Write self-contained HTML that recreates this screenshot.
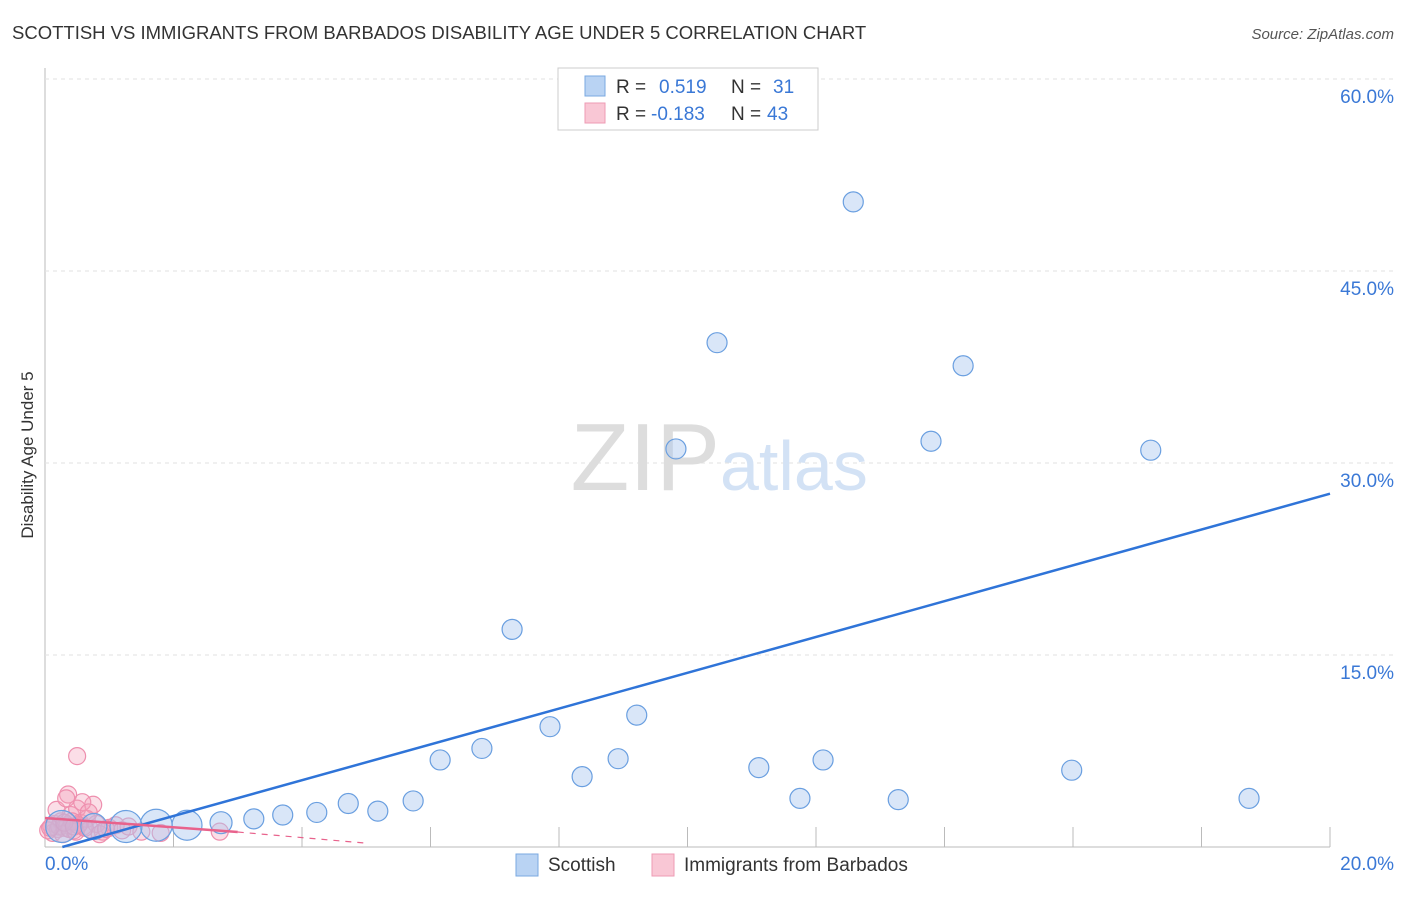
<!DOCTYPE html>
<html><head><meta charset="utf-8"><style>
body{margin:0;background:#fff;font-family:"Liberation Sans",sans-serif}
svg text{font-family:"Liberation Sans",sans-serif}
</style></head><body>
<svg id="chart" width="1406" height="892">
<text x="12" y="39" font-size="18.5" fill="#333">SCOTTISH VS IMMIGRANTS FROM BARBADOS DISABILITY AGE UNDER 5 CORRELATION CHART</text>
<text x="1394" y="39" font-size="15" fill="#555" text-anchor="end" font-style="italic">Source: ZipAtlas.com</text>
<text x="33" y="455" font-size="17" fill="#333" text-anchor="middle" transform="rotate(-90 33 455)">Disability Age Under 5</text>
<g id="grid"></g>
<text x="720" y="490" font-size="96" fill="#ddd" text-anchor="end" font-family="Liberation Serif">ZIP</text>
<text x="720" y="490" font-size="70" fill="#d3e2f5">atlas</text>
<g id="marks"></g>
<g>
<rect x="558" y="68" width="260" height="62" fill="#fff" stroke="#ccc"/>
<rect x="585" y="76" width="20" height="20" fill="#b9d3f3" stroke="#7aa8e0"/>
<rect x="585" y="103" width="20" height="20" fill="#f9c7d5" stroke="#ee9bb4"/>
<text x="616" y="93" font-size="19" fill="#333">R = </text><text x="659" y="93" font-size="19" fill="#3a78d6">0.519</text>
<text x="731" y="93" font-size="19" fill="#333">N = </text><text x="773" y="93" font-size="19" fill="#3a78d6">31</text>
<text x="616" y="120" font-size="19" fill="#333">R = </text><text x="651" y="120" font-size="19" fill="#3a78d6">-0.183</text>
<text x="731" y="120" font-size="19" fill="#333">N = </text><text x="767" y="120" font-size="19" fill="#3a78d6">43</text>
</g>
<g>
<rect x="516" y="854" width="22" height="22" fill="#b9d3f3" stroke="#7aa8e0"/>
<text x="548" y="871" font-size="19" fill="#333">Scottish</text>
<rect x="652" y="854" width="22" height="22" fill="#f9c7d5" stroke="#ee9bb4"/>
<text x="684" y="871" font-size="19" fill="#333">Immigrants from Barbados</text>
</g>
</svg>
<script>
const blueX=[12.58,10.46,14.29,9.82,13.79,17.21,7.27,9.21,7.86,6.80,6.15,8.36,8.92,11.11,12.11,15.98,11.75,13.28,18.74,5.73,5.18,4.72,4.23,3.70,3.25,2.74,2.21,1.73,1.26,0.76,0.26];
const blueY=[50.4,39.4,37.6,31.1,31.7,31.0,17.0,10.3,9.4,7.7,6.8,5.5,6.9,6.2,6.8,6.0,3.8,3.7,3.8,3.6,2.8,3.4,2.7,2.5,2.2,1.9,1.7,1.7,1.6,1.6,1.6];
const blueR=[10,10,10,10,10,10,10,10,10,10,10,10,10,10,10,10,10,10,10,10,10,10,10,10,10,11,15,16,16,13,16];
const pinkX=[0.5,0.36,0.75,2.72,1.8,0.1,0.15,0.2,0.25,0.3,0.35,0.4,0.45,0.5,0.55,0.6,0.65,0.7,0.8,0.9,1.0,1.1,1.2,0.12,0.18,0.22,0.28,0.33,0.38,0.42,0.48,0.52,0.58,0.62,0.68,0.85,0.95,1.3,1.5,0.05,0.08,0.3,0.45];
const pinkY=[7.1,4.1,3.3,1.2,1.1,1.6,1.8,1.4,2.0,1.5,1.7,2.5,1.3,3.0,1.9,1.6,2.2,1.4,1.8,1.2,1.5,1.7,1.3,1.1,2.9,1.6,1.0,3.8,1.4,2.0,1.2,1.7,3.5,1.5,2.7,1.0,1.4,1.6,1.2,1.3,1.5,1.9,1.6];
const xTicks=[0,5,10,15,20];
const yTicks=[15,30,45,60];
const blueLine=[0.27,0,20,27.6];
const pinkLine=[0,2.27,3,1.17,5,0.3];
const X=v=>45+v*64.25, Y=v=>847-v*12.8;
const NS='http://www.w3.org/2000/svg';
function mk(t,a,p){const e=document.createElementNS(NS,t);for(const k in a)e.setAttribute(k,a[k]);p.appendChild(e);return e;}
const g=document.getElementById('grid'), m=document.getElementById('marks');
let ax=mk('line',{x1:45,y1:68,x2:45,y2:847,stroke:'#bbb'},g);


let bx=mk('line',{x1:45,y1:847,x2:1330,y2:847,stroke:'#bbb'},g);


yTicks.forEach(v=>{
 const l=mk('line',{x1:45,x2:1394,y1:Y(v),y2:Y(v),stroke:'#e2e2e2','stroke-dasharray':'4,4'},g);
 
 
 const t=mk('text',{x:1394,y:Y(v)+24,'font-size':19,fill:'#3a78d6','text-anchor':'end'},g);t.textContent=v.toFixed(1)+'%';
 
 
});
for(let i=1;i<=10;i++){const x=X(i*2);const l=mk('line',{x1:x,x2:x,y1:827,y2:847,stroke:'#bbb'},g);
 
 }
[[0,'start',45],[20,'end',1394]].forEach(([v,a,x])=>{const t=mk('text',{x:x,y:870,'font-size':19,fill:'#3a78d6','text-anchor':a},g);t.textContent=v.toFixed(1)+'%';
 
 });
pinkX.forEach((x,i)=>{const c=mk('circle',{cx:X(x),cy:Y(pinkY[i]),r:8.5,fill:'rgba(244,160,185,0.35)',stroke:'#ee8fae','stroke-width':1.2},m);
 
 });
blueX.forEach((x,i)=>{const c=mk('circle',{cx:X(x),cy:Y(blueY[i]),r:blueR[i],fill:'rgba(170,200,240,0.45)',stroke:'#6a9fe0','stroke-width':1.2},m);
 
 });
let bl=mk('line',{x1:X(blueLine[0]),y1:Y(blueLine[1]),x2:X(blueLine[2]),y2:Y(blueLine[3]),stroke:'#2f74d8','stroke-width':2.5},m);


let pl=mk('line',{x1:X(pinkLine[0]),y1:Y(pinkLine[1]),x2:X(pinkLine[2]),y2:Y(pinkLine[3]),stroke:'#e8628c','stroke-width':2.5},m);


let pd=mk('line',{x1:X(pinkLine[2]),y1:Y(pinkLine[3]),x2:X(pinkLine[4]),y2:Y(pinkLine[5]),stroke:'#e8628c','stroke-width':1.2,'stroke-dasharray':'6,6'},m);


</script>
</body></html>
